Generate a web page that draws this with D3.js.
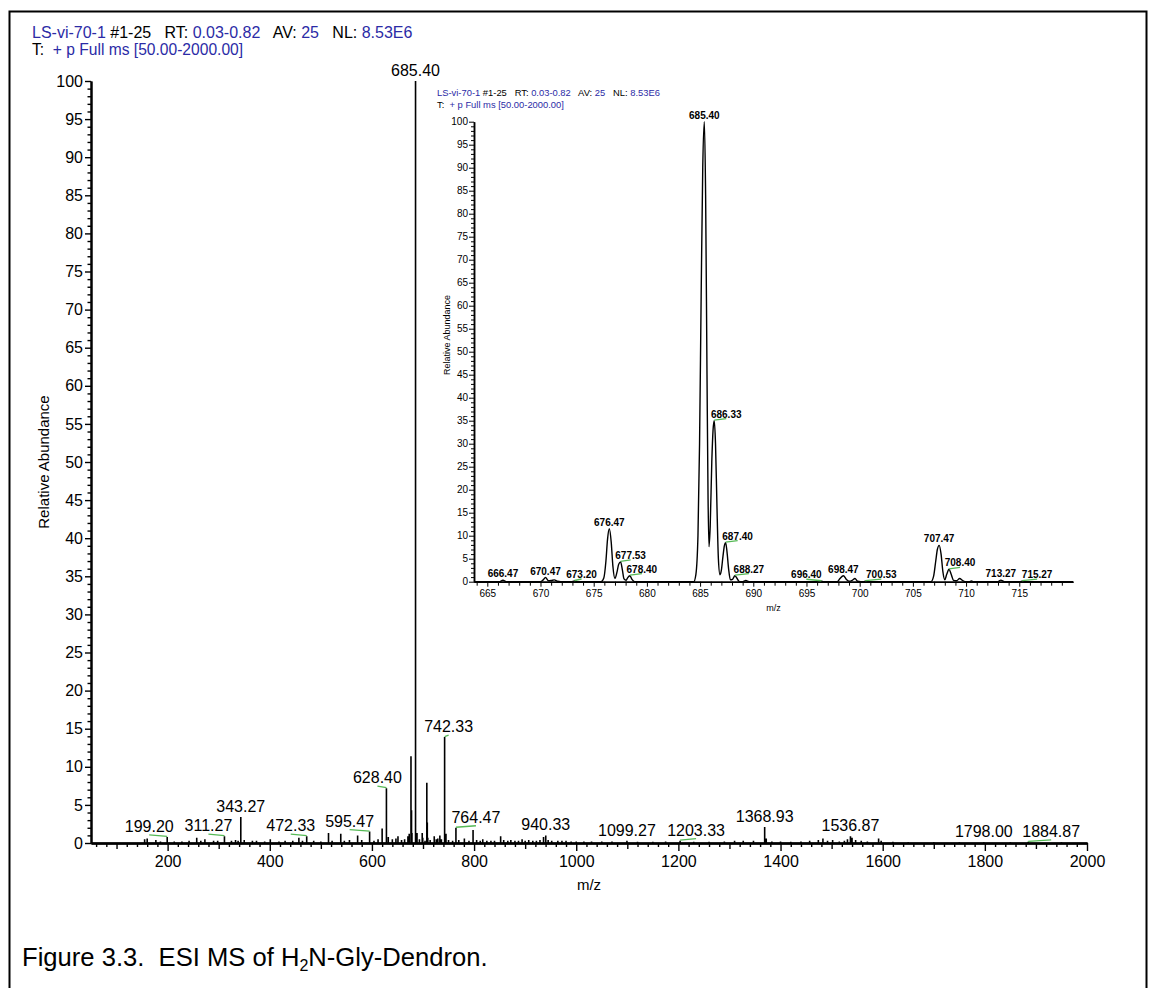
<!DOCTYPE html>
<html>
<head>
<meta charset="utf-8">
<title>ESI MS of H2N-Gly-Dendron</title>
<script src="https://cdn.jsdelivr.net/npm/d3@7"></script>
<style>
  html, body { margin: 0; padding: 0; background: #fff; }
  svg { display: block; font-family: Arial, "Liberation Sans", Helvetica, sans-serif; }
  .pre { white-space: pre; }
</style>
</head>
<body>
<svg id="figure" width="1149" height="988"></svg>
<script>
// ---------------- data ----------------
// Scan header: [text, role]  (role "id" = run/scan values, "txt" = field names)
const headerRun = [
  ["LS-vi-70-1", "id"], [" #1-25", "txt"], ["   RT: ", "txt"], ["0.03-0.82", "id"],
  ["   AV: ", "txt"], ["25", "id"], ["   NL: ", "txt"], ["8.53E6", "id"]
];
const headerFilter = [["T:  ", "txt"], ["+ p Full ms [50.00-2000.00]", "id"]];

// Full-range spectrum: axis ticks
const mainXTicks = [200, 400, 600, 800, 1000, 1200, 1400, 1600, 1800, 2000];
const mainYTicks = [0, 5, 10, 15, 20, 25, 30, 35, 40, 45, 50, 55, 60, 65, 70, 75, 80, 85, 90, 95, 100];

// Full-range spectrum: labelled centroids (m/z label, relative abundance)
const mainLabels = ["199.20", "311.27", "343.27", "472.33", "595.47", "628.40", "685.40", "742.33",
                    "764.47", "940.33", "1099.27", "1203.33", "1368.93", "1536.87", "1798.00", "1884.87"];
const mainLabelAbundance = [0.8, 0.9, 3.4, 0.9, 1.5, 7.2, 100, 13.9,
                            2.0, 1.0, 0.3, 0.3, 2.1, 0.9, 0.1, 0.15];

// Full-range spectrum: unlabelled centroids [m/z, relative abundance]
const mainOtherPeaks = [
  [155,0.5],[160,0.6],[177,0.4],[186,0.2],[213,0.2],[228,0.2],[242,0.3],[257,0.7],[265,0.3],[273,0.5],
  [290,0.3],[298,0.3],[325,0.3],[333,0.4],[338,0.3],[350,0.4],[366,0.3],[374,0.3],[390,0.2],[401,0.5],
  [418,0.2],[430,0.3],[445,0.3],[457,0.7],[464,0.3],[486,0.3],[500,0.2],[515,1.3],[522,0.3],[539,1.2],
  [546,0.3],[556,0.4],[572,1.0],[580,0.4],[604,0.3],[612,0.5],[620,1.9],[632,0.8],[640,0.5],[647,0.6],
  [651,0.9],[658,0.4],[664,0.5],[670.47,0.9],[673,1.2],[676.47,11.4],[677.53,4.3],[678.40,1.3],
  [688.27,1.3],[693,0.5],[698.47,1.3],[699.5,0.7],[704,0.3],[707.47,7.9],
  [708.40,2.7],[709.4,0.7],[714,0.4],[722,0.9],[726,0.5],[729,0.6],[733,1.0],[736,0.5],[745,1.2],
  [750,0.4],[758,0.3],[770,0.4],[781,0.6],[790,0.3],[798,1.7],[805,0.4],[812,0.3],[817,0.5],[825,0.3],
  [833,0.3],[840,0.3],[852,0.9],[858,0.4],[866,0.3],[872,0.4],[880,0.3],[887,0.3],[894,0.5],[900,0.3],
  [907,0.4],[915,0.3],[922,0.3],[929,0.4],[936,0.8],[945,0.4],[952,0.3],[964,0.3],[972,0.3],[980,0.3],
  [990,0.2],[1000,0.2],[1015,0.2],[1030,0.2],[1050,0.2],[1070,0.2],[1120,0.15],[1150,0.15],[1175,0.2],
  [1230,0.15],[1260,0.15],[1290,0.2],[1310,0.3],[1327,0.3],[1347,0.3],[1372,0.6],[1383,0.2],[1400,0.2],
  [1420,0.15],[1440,0.2],[1457,0.3],[1474,0.4],[1483,0.6],[1492,0.3],[1502,0.4],[1515,0.2],[1525,0.3],
  [1531,0.5],[1540,0.7],[1547,0.4],[1558,0.3],[1570,0.2],[1592,0.6],[1597,0.3],[1620,0.15],[1650,0.1],
  [1700,0.1],[1750,0.1],[1850,0.1],[1950,0.1]
];

// Zoomed inset (m/z 664-720): axis ticks
const insetXTicks = [665, 670, 675, 680, 685, 690, 695, 700, 705, 710, 715];
const insetYTicks = [0, 5, 10, 15, 20, 25, 30, 35, 40, 45, 50, 55, 60, 65, 70, 75, 80, 85, 90, 95, 100];

// Zoomed inset: profile trace [m/z, relative abundance]
const insetProfile = [
  [663.75,0],[666.10,0],[666.47,0.3],[666.85,0],
  [670.00,0],[670.25,0.4],[670.47,0.9],[670.75,0.2],[671.00,0.25],[671.30,0.4],[671.60,0.1],[671.90,0],
  [672.90,0],[673.20,0.15],[673.50,0],
  [675.70,0],[675.95,0.8],[676.15,4.5],[676.30,9.2],[676.47,11.5],[676.65,8.5],[676.80,3.5],[677.00,0.7],
  [677.20,2.2],[677.35,3.8],[677.53,4.3],[677.70,2.5],[677.85,0.6],[678.05,0.3],[678.20,0.9],[678.40,1.3],
  [678.60,0.5],[678.85,0],
  [684.40,0],[684.60,1.5],[684.80,10],[684.95,30],[685.10,62],[685.25,90],[685.40,100],[685.52,84],
  [685.65,45],[685.75,18],[685.84,7.6],[685.95,12],[686.10,26],[686.22,33],[686.33,35],[686.45,30],
  [686.58,17],[686.72,5],[686.87,1.5],[687.00,2.5],[687.15,5.5],[687.28,7.8],[687.40,8.5],[687.53,6.5],
  [687.68,2.8],[687.85,0.4],[688.05,0.5],[688.27,1.3],[688.45,0.8],[688.65,0.1],[688.80,0],
  [689.00,0],[689.30,0.25],[689.60,0],
  [696.20,0],[696.40,0.1],[696.60,0],
  [697.90,0],[698.15,0.7],[698.47,1.3],[698.75,0.5],[699.00,0.1],[699.30,0.3],[699.56,0.7],[699.80,0.1],
  [700.10,0],[700.40,0],[700.53,0.12],[700.70,0],
  [706.70,0],[706.95,1.2],[707.15,4.5],[707.30,7.0],[707.47,7.9],[707.65,6.0],[707.82,2.2],[708.00,0.4],
  [708.18,1.6],[708.40,2.7],[708.60,1.6],[708.82,0.3],[709.10,0.2],[709.40,0.7],[709.65,0.3],[709.90,0],
  [710.30,0],[710.50,0.15],[710.70,0],
  [713.00,0],[713.27,0.35],[713.60,0],
  [715.10,0],[715.27,0.12],[715.45,0],
  [720.05,0]
];

// Zoomed inset: labelled peaks
const insetLabels = ["666.47", "670.47", "673.20", "676.47", "677.53", "678.40", "685.40", "686.33",
                     "687.40", "688.27", "696.40", "698.47", "700.53", "707.47", "708.40", "713.27", "715.27"];

const caption = ["Figure 3.3.  ESI MS of H", "2", "N-Gly-Dendron."];

// ---------------- layout ----------------
const BLUE = "#2b2ba6";
const GREEN = "#55b955";

// Horizontal label shifts (px) for labels pushed off their peak; a green leader joins them back
const mainLabelShift = {
  "199.20": -18, "311.27": -16, "472.33": -16, "595.47": -20, "628.40": -9,
  "742.33": 4, "764.47": 20, "1203.33": 16, "1884.87": 23
};
const insetLabelShift = {
  "673.20": 7, "677.53": 10, "678.40": 12, "686.33": 12, "687.40": 12, "688.27": 14,
  "696.40": -15, "700.53": 16, "708.40": 11, "715.27": 15
};

const svg = d3.select("#figure");

// outer frame
svg.append("rect")
  .attr("x", 9.5).attr("y", 11.5).attr("width", 1137).attr("height", 1000)
  .attr("fill", "none").attr("stroke", "#000").attr("stroke-width", 2);

function drawHeader(parts, x, y, size) {
  const t = svg.append("text").attr("class", "pre")
    .attr("x", x).attr("y", y).attr("font-size", size);
  t.selectAll("tspan").data(parts).join("tspan")
    .attr("fill", d => d[1] === "id" ? BLUE : "#000")
    .text(d => d[0]);
}

function styleAxis(g, domainWidth, tickWidth, fontSize) {
  g.attr("font-family", null).attr("font-size", null);
  g.selectAll(".domain").attr("stroke", "#000").attr("stroke-width", domainWidth);
  g.selectAll(".tick line").attr("stroke", "#000").attr("stroke-width", tickWidth);
  g.selectAll(".tick text").attr("fill", "#000").attr("font-size", fontSize);
}

function drawLabels(layer, items, xs, ys, shift, fontSize, gap, weight) {
  items.forEach(d => {
    const px = xs(d.mz), py = ys(d.ab);
    const dx = shift[d.label] || 0;
    if (dx !== 0) {
      layer.append("line")
        .attr("x1", px).attr("y1", py - 0.5)
        .attr("x2", px + dx).attr("y2", py - 2)
        .attr("stroke", GREEN).attr("stroke-width", 1.3);
    }
    layer.append("text")
      .attr("x", px + dx).attr("y", py - gap)
      .attr("text-anchor", "middle").attr("font-size", fontSize)
      .attr("font-weight", weight).attr("fill", "#000")
      .text(d.label);
  });
}

const plainNumber = d3.format("d");

// ---------------- full-range spectrum ----------------
drawHeader(headerRun, 32, 38, 16);
drawHeader(headerFilter, 32, 55, 15.6);

const x = d3.scaleLinear().domain([50, 2000]).range([91, 1087]);
const y = d3.scaleLinear().domain([0, 100]).range([843, 81]);

const mainLabelled = mainLabels.map((l, i) => ({ label: l, mz: +l, ab: mainLabelAbundance[i] }));
const sticks = mainOtherPeaks.map(p => ({ mz: p[0], ab: p[1] })).concat(mainLabelled);

svg.append("path")
  .attr("fill", "none").attr("stroke", "#000").attr("stroke-width", 1.6)
  .attr("d", sticks.map(s => `M${x(s.mz).toFixed(2)},${y(0)}V${y(s.ab).toFixed(2)}`).join(""));

// y axis
const gY = svg.append("g").attr("transform", `translate(${x.range()[0]},0)`);
gY.append("g").call(d3.axisLeft(y).tickValues(d3.range(0, 101).filter(v => v % 5)).tickSize(3.5).tickSizeOuter(0).tickFormat(""));
gY.append("g").call(d3.axisLeft(y).tickValues(mainYTicks).tickSize(6).tickSizeOuter(0).tickPadding(2).tickFormat(plainNumber));
styleAxis(gY, 2, 1.4, 16);

// x axis
const gX = svg.append("g").attr("transform", `translate(0,${y(0)})`);
gX.append("g").call(d3.axisBottom(x).tickValues(d3.range(60, 2000, 20).filter(v => v % 100)).tickSize(4).tickSizeOuter(0).tickFormat(""));
gX.append("g").call(d3.axisBottom(x).tickValues(d3.range(100, 2000, 200)).tickSize(6).tickSizeOuter(0).tickFormat(""));
gX.append("g").call(d3.axisBottom(x).tickValues(mainXTicks).tickSize(8).tickSizeOuter(0).tickPadding(5).tickFormat(plainNumber));
styleAxis(gX, 2, 1.4, 16);

svg.append("text").attr("transform", `translate(44,${(y(0) + y(100)) / 2}) rotate(-90)`)
  .attr("text-anchor", "middle").attr("dy", "0.35em").attr("font-size", 15).text("Relative Abundance");
svg.append("text").attr("x", (x.range()[0] + x.range()[1]) / 2).attr("y", 890)
  .attr("text-anchor", "middle").attr("font-size", 15).text("m/z");

drawLabels(svg.append("g"), mainLabelled, x, y, mainLabelShift, 16, 5, "normal");

// ---------------- zoomed inset ----------------
drawHeader(headerRun, 437, 96, 9.4);
drawHeader(headerFilter, 437, 108, 9.4);

const xi = d3.scaleLinear().domain([663.75, 720.05]).range([474, 1073]);
const yi = d3.scaleLinear().domain([0, 100]).range([581.7, 121.7]);

svg.append("path")
  .datum(insetProfile)
  .attr("fill", "none").attr("stroke", "#000").attr("stroke-width", 1.4).attr("stroke-linejoin", "round")
  .attr("d", d3.line().x(d => xi(d[0])).y(d => yi(d[1])).curve(d3.curveMonotoneX));

const giY = svg.append("g").attr("transform", `translate(${xi.range()[0]},0)`);
giY.append("g").call(d3.axisLeft(yi).tickValues(d3.range(0, 101).filter(v => v % 5)).tickSize(3).tickSizeOuter(0).tickFormat(""));
giY.append("g").call(d3.axisLeft(yi).tickValues(insetYTicks).tickSize(5).tickSizeOuter(0).tickPadding(1).tickFormat(plainNumber));
styleAxis(giY, 1.5, 1, 10);

const giX = svg.append("g").attr("transform", `translate(0,${yi(0)})`);
giX.append("g").call(d3.axisBottom(xi).tickValues(d3.range(664, 720).filter(v => v % 5)).tickSize(4).tickSizeOuter(0).tickFormat(""));
giX.append("g").call(d3.axisBottom(xi).tickValues(insetXTicks).tickSize(5).tickSizeOuter(0).tickPadding(3).tickFormat(plainNumber));
styleAxis(giX, 1.5, 1, 10);

svg.append("text").attr("transform", `translate(447,335) rotate(-90)`)
  .attr("text-anchor", "middle").attr("dy", "0.35em").attr("font-size", 9).text("Relative Abundance");
svg.append("text").attr("x", (xi.range()[0] + xi.range()[1]) / 2).attr("y", 611)
  .attr("text-anchor", "middle").attr("font-size", 9).text("m/z");

const insetLabelled = insetLabels.map(l => {
  const pt = insetProfile.find(p => Math.abs(p[0] - +l) < 1e-6);
  return { label: l, mz: +l, ab: pt ? pt[1] : 0 };
});
drawLabels(svg.append("g"), insetLabelled, xi, yi, insetLabelShift, 10, 3, "bold");

// ---------------- caption ----------------
const cap = svg.append("text").attr("class", "pre").attr("x", 22).attr("y", 966).attr("font-size", 25.6);
cap.append("tspan").text(caption[0]);
cap.append("tspan").attr("dy", 5).attr("font-size", 16).text(caption[1]);
cap.append("tspan").attr("dy", -5).text(caption[2]);
</script>
</body>
</html>
